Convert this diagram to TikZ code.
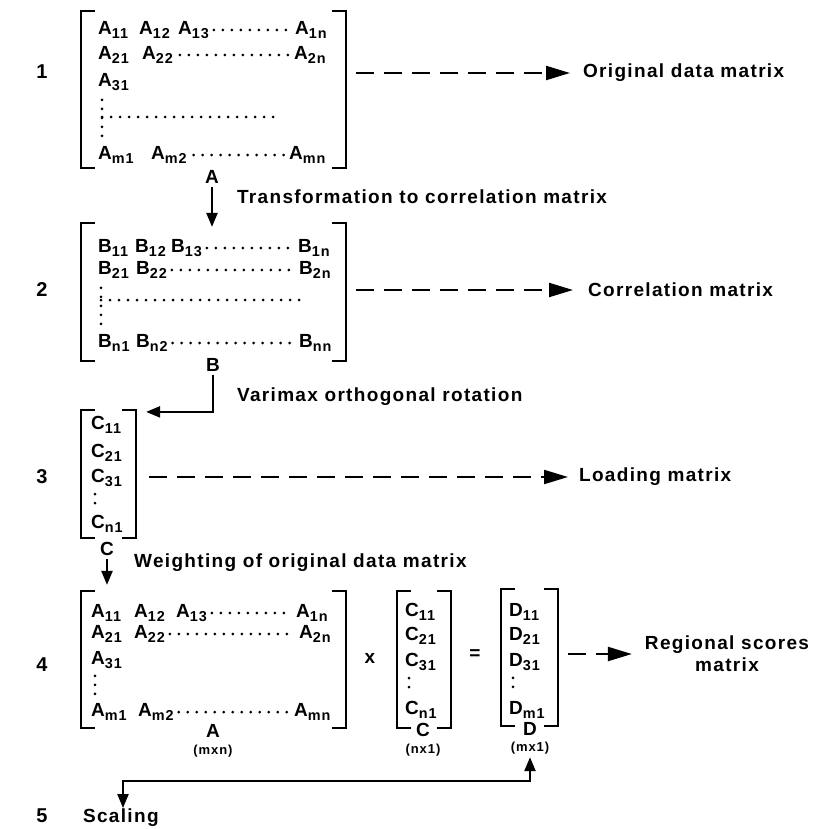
\documentclass[tikz,border=0pt]{standalone}
\usepackage{fontspec}
\setmainfont{Liberation Sans}[LetterSpace=7]
\usepackage{tikz}
\usetikzlibrary{arrows.meta,positioning,calc,fit}

\newcommand{\el}[2]{#1\raisebox{-0.45ex}{\fontsize{7.2pt}{8pt}\selectfont #2}}
\newcommand{\matbrackets}[1]{%
  \draw[brk] ([xshift=7pt]#1.north west) -- (#1.north west) -- (#1.south west) -- ([xshift=7pt]#1.south west);
  \draw[brk] ([xshift=-7pt]#1.north east) -- (#1.north east) -- (#1.south east) -- ([xshift=-7pt]#1.south east);}

\begin{document}
\begin{tikzpicture}[x=0.5pt, y=-0.5pt, >={Triangle[length=7pt,width=5.5pt]}, line width=1.1pt, font=\fontsize{9.5pt}{11pt}\selectfont\bfseries]
  \tikzstyle{frame} = [inner sep=0pt]
  \tikzstyle{brk} = [line width=1.2pt]
  \tikzstyle{entry} = [anchor=west, inner sep=0pt]
  \tikzstyle{dotrow} = [line width=1.5pt, line cap=round, dash pattern=on 0pt off 4.5pt]
  \tikzstyle{dasharrow} = [-{Triangle[length=12pt,width=7pt]}, dash pattern=on 9pt off 5pt]
  \tikzstyle{rownum} = [font=\fontsize{10pt}{12pt}\selectfont\bfseries]
  \tikzstyle{desc} = [anchor=west, inner sep=0pt]
  \tikzstyle{dimlabel} = [font=\fontsize{6.5pt}{7pt}\selectfont\bfseries, inner sep=0pt]

  \useasboundingbox (0,0) rectangle (814,829);

  % row numbers
  \node[rownum] (n1) at (42,72) {1};
  \node[rownum] (n2) at (42,290) {2};
  \node[rownum] (n3) at (42,477) {3};
  \node[rownum] (n4) at (42,665) {4};
  \node[rownum] (n5) at (42,816) {5};

  % matrix frames
  \node[frame, fit={(82,12) (345,167)}] (M1) {};
  \node[frame, fit={(82,224) (345,360)}] (M2) {};
  \node[frame, fit={(82,411) (135,537)}] (M3) {};
  \node[frame, fit={(82,592) (345,727)}] (M4) {};
  \node[frame, fit={(398,592) (450,727)}] (M5) {};
  \node[frame, fit={(502,590) (557,725)}] (M6) {};
  \matbrackets{M1}
  \matbrackets{M2}
  \matbrackets{M3}
  \matbrackets{M4}
  \matbrackets{M5}
  \matbrackets{M6}

  % Original data matrix
  \node[entry] (a11) at (97,30) {\el{A}{11}};
  \node[entry] (a12) at (138,30) {\el{A}{12}};
  \node[entry] (a13) at (177,30) {\el{A}{13}};
  \node[entry] (a1n) at (294,30) {\el{A}{1n}};
  \node[entry] (a21) at (97,55) {\el{A}{21}};
  \node[entry] (a22) at (141,55) {\el{A}{22}};
  \node[entry] (a2n) at (293,55) {\el{A}{2n}};
  \node[entry] (a31) at (97,82) {\el{A}{31}};
  \node[entry] (am1) at (97,155) {\el{A}{m1}};
  \node[entry] (am2) at (150,155) {\el{A}{m2}};
  \node[entry] (amn) at (288,155) {\el{A}{mn}};
  \draw[dotrow] ([xshift=2pt]a13.east) -- ([xshift=-2pt]a1n.west);
  \draw[dotrow] ([xshift=3pt]a22.east) -- ([xshift=-2pt]a2n.west);
  \draw[dotrow] ([xshift=3pt]am2.east) -- ([xshift=-2pt]amn.west);
  \draw[dotrow] (102,117) -- (282,117);
  \draw[dotrow] ([xshift=2.5pt,yshift=-4pt]a31.south west) -- ([xshift=2.5pt,yshift=4pt]am1.north west);

  % Correlation matrix
  \node[entry] (b11) at (97,248) {\el{B}{11}};
  \node[entry] (b12) at (134,248) {\el{B}{12}};
  \node[entry] (b13) at (170,248) {\el{B}{13}};
  \node[entry] (b1n) at (297,248) {\el{B}{1n}};
  \node[entry] (b21) at (97,270) {\el{B}{21}};
  \node[entry] (b22) at (135,270) {\el{B}{22}};
  \node[entry] (b2n) at (298,270) {\el{B}{2n}};
  \node[entry] (bn1) at (97,343) {\el{B}{n1}};
  \node[entry] (bn2) at (135,343) {\el{B}{n2}};
  \node[entry] (bnn) at (298,343) {\el{B}{nn}};
  \draw[dotrow] ([xshift=2pt]b13.east) -- ([xshift=-2pt]b1n.west);
  \draw[dotrow] ([xshift=2pt]b22.east) -- ([xshift=-2pt]b2n.west);
  \draw[dotrow] ([xshift=2pt]bn2.east) -- ([xshift=-2pt]bnn.west);
  \draw[dotrow] (101,300) -- (303,300);
  \draw[dotrow] ([xshift=2pt,yshift=-4pt]b21.south west) -- ([xshift=2pt,yshift=4pt]bn1.north west);

  % Loading matrix
  \node[entry] (c11) at (90,425) {\el{C}{11}};
  \node[entry] (c21) at (90,453) {\el{C}{21}};
  \node[entry] (c31) at (90,478) {\el{C}{31}};
  \node[entry] (cn1) at (90,524) {\el{C}{n1}};
  \draw[dotrow] ([xshift=2.5pt,yshift=-3pt]c31.south west) -- ([xshift=2.5pt,yshift=3pt]cn1.north west);

  % weighted product
  \node[entry] (e11) at (90,613) {\el{A}{11}};
  \node[entry] (e12) at (133,613) {\el{A}{12}};
  \node[entry] (e13) at (175,613) {\el{A}{13}};
  \node[entry] (e1n) at (295,613) {\el{A}{1n}};
  \node[entry] (e21) at (90,634) {\el{A}{21}};
  \node[entry] (e22) at (133,634) {\el{A}{22}};
  \node[entry] (e2n) at (298,634) {\el{A}{2n}};
  \node[entry] (e31) at (90,660) {\el{A}{31}};
  \node[entry] (em1) at (90,712) {\el{A}{m1}};
  \node[entry] (em2) at (137,712) {\el{A}{m2}};
  \node[entry] (emn) at (293,712) {\el{A}{mn}};
  \draw[dotrow] ([xshift=2pt]e13.east) -- ([xshift=-2pt]e1n.west);
  \draw[dotrow] ([xshift=2pt]e22.east) -- ([xshift=-2pt]e2n.west);
  \draw[dotrow] ([xshift=2pt]em2.east) -- ([xshift=-2pt]emn.west);
  \draw[dotrow] ([xshift=2.5pt,yshift=-3pt]e31.south west) -- ([xshift=2.5pt,yshift=3pt]em1.north west);

  \node[entry] (f11) at (404,612) {\el{C}{11}};
  \node[entry] (f21) at (404,636) {\el{C}{21}};
  \node[entry] (f31) at (404,662) {\el{C}{31}};
  \node[entry] (fn1) at (404,710) {\el{C}{n1}};
  \draw[dotrow] ([xshift=2.5pt,yshift=-3pt]f31.south west) -- ([xshift=2.5pt,yshift=3pt]fn1.north west);

  \node[entry] (g11) at (508,612) {\el{D}{11}};
  \node[entry] (g21) at (508,636) {\el{D}{21}};
  \node[entry] (g31) at (508,662) {\el{D}{31}};
  \node[entry] (gm1) at (508,710) {\el{D}{m1}};
  \draw[dotrow] ([xshift=2.5pt,yshift=-3pt]g31.south west) -- ([xshift=2.5pt,yshift=3pt]gm1.north west);

  \node (times) at (370,658) {x};
  \node (equals) at (475,655) {=};

  % matrix labels
  \node[inner sep=1pt] (labA) at (212,177) {A};
  \node[inner sep=1pt] (labB) at (213,365) {B};
  \node[inner sep=1pt] (labC) at (107,549) {C};
  \node[inner sep=0pt] (labA4) at (213,731) {A};
  \node[dimlabel] (dimA) at (213,751) {(mxn)};
  \node[inner sep=0pt] (labC4) at (423,730) {C};
  \node[dimlabel] (dimC) at (423,750) {(nx1)};
  \node[inner sep=0pt] (labD) at (530,729) {D};
  \node[dimlabel] (dimD) at (530,748) {(mx1)};

  % step texts
  \node[desc] (t1) at (236,197) {Transformation to correlation matrix};
  \node[desc] (t2) at (236,397) {Varimax orthogonal rotation};
  \node[desc] (t3) at (133,563) {Weighting of original data matrix};
  \node[desc] (scaling) at (82,818) {Scaling};

  % results
  \node[desc] (orig) at (582,73) {Original data matrix};
  \node[desc] (corr) at (587,290) {Correlation matrix};
  \node[desc] (load) at (578,477) {Loading matrix};
  \node[align=center, inner sep=0pt] (regional) at (727,654) {Regional scores\\matrix};

  % steps
  \draw[->] (labA.south) -- ([yshift=-2pt]labA |- M2.north);
  \draw[->] (labB.south) |- ([xshift=5pt,yshift=-1pt]M3.north east);
  \draw[->] (labC.south) -- ([yshift=3pt]labC |- M4.north);
  \coordinate (turn) at (123,781);
  \draw[<->, shorten <=1pt] (dimD.south) |- (turn) -- (turn |- scaling.north);

  % dashed result arrows
  \draw[dasharrow] ([xshift=5pt]M1.east |- orig.west) -- ([xshift=-6pt]orig.west);
  \draw[dasharrow] ([xshift=5pt]M2.east |- corr.west) -- ([xshift=-7pt]corr.west);
  \draw[dasharrow] ([xshift=6.5pt]M3.east |- load.west) -- ([xshift=-5pt]load.west);
  \draw[dasharrow] ([xshift=5pt]M6.east |- regional.west) -- ([xshift=-6pt]regional.west);
\end{tikzpicture}
\end{document}
